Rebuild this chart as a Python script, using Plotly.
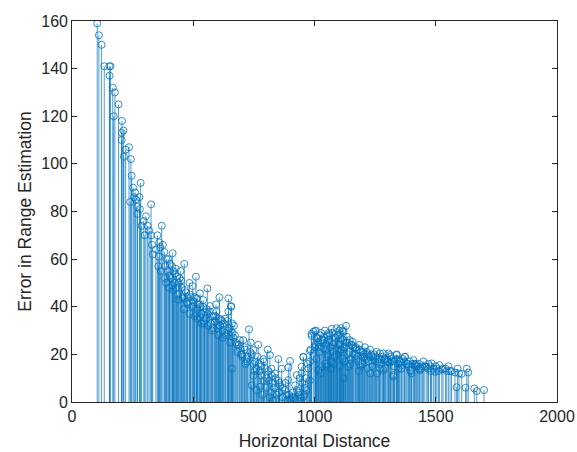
import plotly.graph_objects as go

# Horizontal distance (x) / error in range estimation (y), by region
steep_x = [104, 111, 122, 133, 154, 159, 155, 168, 177, 192, 172, 206, 212, 205, 205, 221, 235, 214, 243, 246]
steep_y = [159, 154, 150, 141, 141, 141, 137, 132, 130, 125, 120, 118, 114, 113, 110, 106, 107, 103, 102, 95]

upper_x = [283, 260, 278, 256, 263, 269, 280, 326, 305, 287, 312, 370, 240, 270, 300, 330, 318, 296, 252]
upper_y = [92, 88, 86, 86, 85, 82, 81, 83, 78, 74, 74, 74, 84, 79, 70, 66, 72, 76, 90]

mid1_x = [326, 352, 360, 363, 346, 381, 333, 415, 397, 404, 356, 384, 463, 418, 448, 384, 432, 511, 484, 498]
mid1_y = [70, 70, 67, 65, 64, 63, 62, 62.5, 60, 58, 57, 57, 58, 55, 55, 52, 52.6, 52.6, 50, 48.7]

mid2_x = [415, 452, 558, 528, 459, 514, 608, 473, 541, 569, 500, 594, 656, 645, 514, 548, 596, 576, 528, 614]
mid2_y = [49, 48, 47.7, 45.6, 43.5, 43.5, 44, 42, 42.8, 40.3, 40.3, 41, 40.3, 38, 37, 38, 38, 36, 35.6, 34.7]

mid3_x = [640, 535, 562, 610, 390, 425, 440, 470, 490, 520, 555, 585, 620, 660, 505, 545, 580, 630, 400, 435]
mid3_y = [34, 33, 32, 32, 60, 54, 50, 46, 44, 41, 39, 36, 30, 33, 36, 34, 31, 29, 48, 45]

mid4_x = [395, 408, 412, 422, 430, 444, 455, 466, 478, 488, 495, 506, 518, 525, 533, 540, 552, 565, 572, 588]
mid4_y = [55, 52, 57, 50, 48, 52, 44, 47, 41, 45, 40, 44, 39, 41, 37, 40, 35, 38, 33, 34]

mid5_x = [358, 366, 375, 388, 402, 418, 428, 438, 450, 461, 476, 486, 503, 516, 530, 546, 560, 578, 592, 604]
mid5_y = [61, 55, 66, 50, 53, 47, 56, 43, 51, 39, 44, 37, 42, 35, 40, 33, 37, 30, 36, 28]

mid6_x = [612, 622, 632, 642, 652, 662, 668, 682, 692, 702, 712, 722, 742, 752, 770, 782, 792, 812, 822, 832]
mid6_y = [32, 27, 35, 30, 25, 29, 32, 21, 26, 19, 22, 17, 20, 13, 16, 11, 17, 9, 14, 6]

fall1_x = [645, 656, 617, 730, 672, 706, 737, 768, 807, 693, 748, 816, 851, 899, 789, 720, 659, 748, 865, 892]
fall1_y = [43.5, 40, 34, 30.5, 28, 26, 25, 24, 22, 22.5, 21.8, 19.7, 18, 17.2, 18, 18, 14, 16, 14, 14.5]

fall2_x = [600, 605, 625, 635, 650, 665, 675, 688, 698, 710, 725, 735, 755, 765, 780, 795, 810, 825, 840, 855]
fall2_y = [31, 35, 33, 28, 31, 27, 25, 24, 20, 23, 19, 21, 17, 19, 15, 14, 13, 11, 10, 8]

dip1_x = [775, 837, 927, 748, 803, 892, 947, 954, 981, 988, 1002, 1009, 741, 858, 927, 885, 830, 915, 954, 968]
dip1_y = [13, 12, 11.3, 11, 10, 9.2, 12, 18.8, 21.4, 28.6, 29.8, 26.7, 7, 7, 5, 3, 0.5, 0.4, 2.2, 5]

dip2_x = [906, 775, 851, 981, 680, 700, 715, 760, 790, 820, 845, 870, 880, 900, 910, 920, 935, 940, 960, 975]
dip2_y = [2, 6.4, 9, 9, 24, 20, 16, 14, 9, 4, 3, 6, 8, 1, 4, 7, 3, 10, 6, 14]

dip3_x = [760, 785, 800, 815, 828, 842, 855, 868, 878, 888, 895, 903, 912, 922, 932, 942, 950, 958, 965, 972]
dip3_y = [5, 3, 6, 2, 8, 1, 4, 2, 5, 1, 3, 0.8, 2, 1, 4, 2, 8, 3, 10, 16]

hump1_x = [995, 1006, 1043, 1071, 1091, 1109, 1130, 1102, 988, 1023, 1064, 1085, 1112, 1133, 1157, 1185, 1208]
hump1_y = [29.5, 30, 30, 30.7, 31, 31, 32, 30, 27.7, 28, 28, 27, 26.7, 27.4, 25.3, 24, 23]

hump2_x = [1229, 1256, 1284, 1311, 1339, 1373, 984, 954, 947, 981, 1002, 1036, 1078, 1057, 1078, 1016, 1126, 1181]
hump2_y = [22, 21, 20.4, 19.7, 19.7, 19, 22, 19, 14.8, 17, 23, 22.5, 24, 19, 16, 13.4, 17, 17]

hump3_x = [1195, 1250, 1284, 1325, 1311, 1360, 1050, 1140, 1167, 1105, 1015, 1030, 1048, 1060, 1095, 1120, 1145]
hump3_y = [19, 17, 13.4, 10.6, 16.5, 15.5, 14.8, 14.8, 22.5, 21, 25, 26, 24, 29, 28, 29.5, 26]

hump4_x = [1160, 1175, 1200, 1215, 1240, 1265, 1295, 1320, 1345, 1120, 1090, 1030, 1070, 1150, 1190, 1230, 1270]
hump4_y = [23, 22, 21, 21, 19, 18, 18, 17, 16, 10, 20, 15, 17, 18, 15, 12, 14]

hump5_x = [1004, 1012, 1020, 1027, 1034, 1040, 1046, 1053, 1058, 1066, 1073, 1080, 1087, 1094, 1100, 1107, 1114, 1118, 1124, 1136]
hump5_y = [24, 27, 21, 29, 25, 27, 22, 28, 26, 23, 29, 25, 27, 22, 28, 24, 30, 26, 23, 25]

hump6_x = [1143, 1152, 1163, 1170, 1178, 1186, 1193, 1203, 1211, 1220, 1226, 1235, 1244, 1252, 1262, 1275, 1290, 1300, 1316, 1330]
hump6_y = [21, 24, 20, 23, 19, 22, 21, 20, 18, 20, 19, 20, 18, 19, 17, 18, 18, 17, 18, 17]

hump7_x = [1008, 1018, 1025, 1038, 1044, 1055, 1062, 1068, 1076, 1083, 1097, 1104, 1110, 1116, 1128, 1138, 1148, 1155, 1172, 1183]
hump7_y = [18, 23, 12, 26, 16, 20, 25, 14, 21, 19, 24, 15, 22, 18, 25, 20, 16, 24, 18, 13]

hump8_x = [1198, 1206, 1218, 1224, 1238, 1247, 1258, 1268, 1280, 1292, 1304, 1313, 1328, 1342, 1358, 1370, 1388, 1398, 1418, 1430]
hump8_y = [16, 19, 14, 17, 15, 20, 12, 16, 19, 14, 17, 19, 15, 18, 14, 17, 15, 13, 16, 14]

tail1_x = [1270, 1305, 1339, 1373, 1408, 1449, 1483, 1515, 1552, 1590, 1628, 1634, 1607, 1579, 1497, 1435, 1586, 1623, 1659, 1669, 1699]
tail1_y = [20.4, 20.4, 20, 19, 17.6, 17, 16.2, 15.5, 15, 14, 14, 12.4, 11.8, 12.4, 12.7, 13.4, 6.2, 6, 5.7, 4.6, 5]

tail2_x = [1325, 1346, 1394, 1287, 1353, 1414, 1463, 1525, 1559, 1385, 1420, 1470, 1500, 1540, 1400, 1440, 1480]
tail2_y = [11.3, 14, 13.4, 17.6, 17, 15.5, 14.8, 13.7, 13, 16, 15, 16, 15, 14, 12, 14, 13]

tail3_x = [1336, 1350, 1365, 1380, 1392, 1402, 1412, 1425, 1432, 1445, 1455, 1468, 1478, 1490, 1505, 1512, 1530, 1545, 1565, 1596]
tail3_y = [18, 17, 18, 16, 17, 16, 16, 15, 16, 15, 15, 14, 15, 14, 14, 13, 14, 13, 13, 12]

regions = [
    (steep_x, steep_y), (upper_x, upper_y), (mid1_x, mid1_y), (mid2_x, mid2_y),
    (mid3_x, mid3_y), (mid4_x, mid4_y), (mid5_x, mid5_y), (mid6_x, mid6_y),
    (fall1_x, fall1_y), (fall2_x, fall2_y),
    (dip1_x, dip1_y), (dip2_x, dip2_y), (dip3_x, dip3_y),
    (hump1_x, hump1_y), (hump2_x, hump2_y), (hump3_x, hump3_y), (hump4_x, hump4_y),
    (hump5_x, hump5_y), (hump6_x, hump6_y), (hump7_x, hump7_y), (hump8_x, hump8_y),
    (tail1_x, tail1_y), (tail2_x, tail2_y), (tail3_x, tail3_y),
]
x_vals, y_vals = [], []
for rx, ry in regions:
    assert len(rx) == len(ry), (len(rx), len(ry))
    x_vals += rx
    y_vals += ry

x_ticks = [0, 500, 1000, 1500, 2000]
y_ticks = [0, 20, 40, 60, 80, 100, 120, 140, 160]

BLUE = "#0072BD"
AXC = "#262626"
FONT = "Liberation Sans, Arial, sans-serif"

# stem segments built from the data arrays
sx, sy = [], []
for xv, yv in zip(x_vals, y_vals):
    sx += [xv, xv, None]
    sy += [0, yv, None]

fig = go.Figure()
fig.add_trace(go.Scatter(x=sx, y=sy, mode="lines",
                         line=dict(color=BLUE, width=0.7),
                         hoverinfo="skip", showlegend=False))
fig.add_trace(go.Scatter(x=x_vals, y=y_vals, mode="markers",
                         marker=dict(symbol="circle-open", size=7, color=BLUE,
                                     line=dict(color=BLUE, width=0.8)),
                         showlegend=False))

axis_common = dict(
    automargin=False,
    showgrid=False, zeroline=False, showline=True, linecolor=AXC, linewidth=0.6,
    mirror="ticks", ticks="inside", ticklen=5, tickcolor=AXC, tickwidth=0.6,
    tickfont=dict(family=FONT, size=16, color=AXC),
)

fig.update_layout(
    width=577, height=452,
    margin=dict(l=72, r=20, t=21, b=50),
    paper_bgcolor="white", plot_bgcolor="white",
    xaxis=dict(range=[0, 2000], tickvals=x_ticks,
               title=dict(text="Horizontal Distance", standoff=10,
                          font=dict(family=FONT, size=17.5, color=AXC)),
               **axis_common),
    yaxis=dict(range=[0, 160], tickvals=y_ticks,
               title=dict(text="Error in Range Estimation", standoff=5,
                          font=dict(family=FONT, size=17.5, color=AXC)),
               **axis_common),
)

# place the figure at the window's top-left corner (no default body margin)
fig.write_html("out.html",
               config={"displayModeBar": False},
               post_script="document.body.style.margin='0';document.body.style.padding='0';")
